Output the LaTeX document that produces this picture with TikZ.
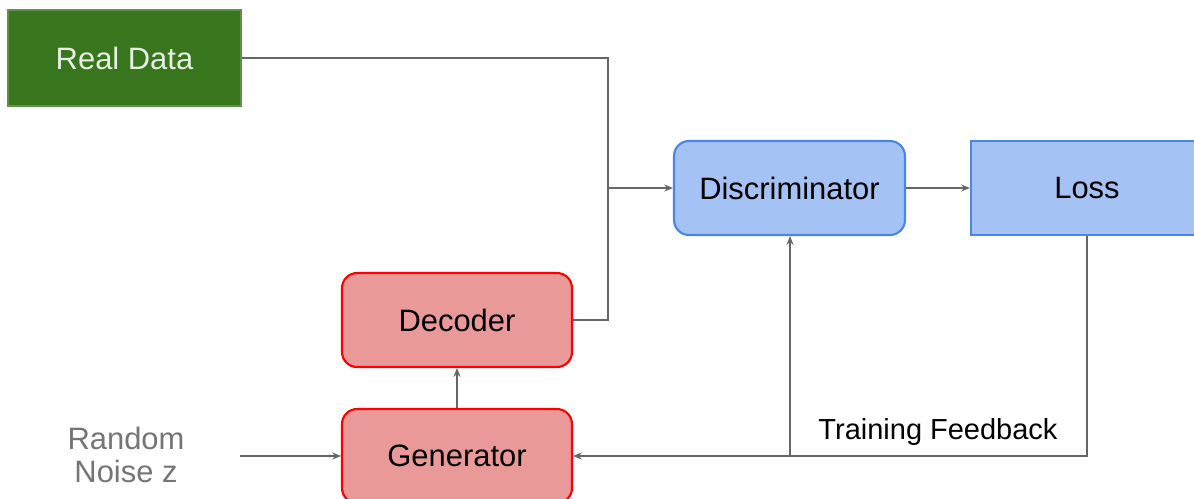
\documentclass[tikz,border=0pt]{standalone}
\usepackage{fontspec}
\setmainfont{Liberation Sans}
\usetikzlibrary{arrows.meta}
\definecolor{rdgreen}{HTML}{38761D}
\definecolor{rdtext}{HTML}{E6EFE2}
\definecolor{blfill}{HTML}{A4C2F4}
\definecolor{bldraw}{HTML}{4A86E8}
\definecolor{rdfill}{HTML}{EA9999}
\definecolor{rddraw}{HTML}{FF0000}
\definecolor{lnc}{HTML}{666666}
\definecolor{noisec}{HTML}{757575}
\begin{document}
\begin{tikzpicture}[x=0.02cm,y=-0.02cm,
  lbl/.style={font=\fontsize{17.6}{21}\selectfont},
  greenbox/.style={lbl,draw=rdgreen!80!white,fill=rdgreen,text=rdtext,line width=0.6pt,minimum width=4.66cm,minimum height=1.92cm,inner sep=0pt},
  bluebox/.style={lbl,draw=bldraw,fill=blfill,line width=1.2pt,minimum width=4.62cm,minimum height=1.88cm,inner sep=0pt},
  redbox/.style={lbl,draw=rddraw,fill=rdfill,line width=1.2pt,rounded corners=0.3cm,minimum width=4.6cm,minimum height=1.88cm,inner sep=0pt},
  conn/.style={draw=lnc,line width=0.8pt,-{Stealth[length=5pt,width=4pt]}},
  plain/.style={draw=lnc,line width=0.8pt}]
\clip (0,0) rectangle (1194,498);
\fill[white] (0,0) rectangle (1194,498);
\node[greenbox] (real) at (124.5,58) {Real Data};
\node[bluebox,rounded corners=0.3cm] (disc) at (789.5,188) {Discriminator};
\node[bluebox,minimum width=4.64cm] (loss) at (1087,188) {Loss};
\node[redbox] (dec) at (457,320) {Decoder};
\node[redbox] (gen) at (457,456) {Generator};
\node[lbl,text=noisec,align=center,inner sep=0pt] (noise) at (126,455) {Random\\[-2pt]Noise z};
\node[font=\fontsize{16.5}{20}\selectfont,inner sep=0pt] (tf) at (938,432) {Training Feedback};
\coordinate (rc) at (608,58);
\coordinate (rb) at (608,188);
\coordinate (rd) at (608,320);
\coordinate (fb) at (790,455);
\coordinate (ne) at (240,456);
\draw[plain] (real.east) -- (rc) -- (rd) -- (dec.east);
\draw[conn] (rb) -- (disc.west);
\draw[conn] (disc.east) -- (loss.west);
\draw[conn] (loss.south) |- (gen.east);
\draw[conn] (fb) -- (fb |- disc.south);
\draw[conn] (gen.north) -- (dec.south);
\draw[conn] (ne) -- (gen.west);
\end{tikzpicture}
\end{document}
